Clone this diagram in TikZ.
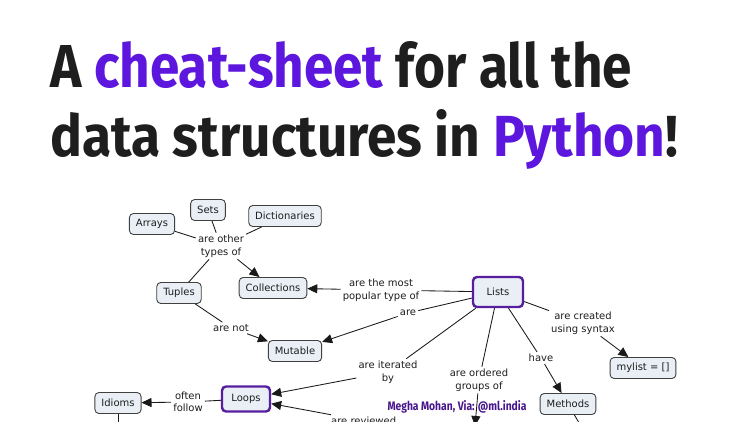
\documentclass[tikz,border=0pt]{standalone}
\usepackage{fontspec}
\setmainfont{DejaVu Sans}
\newfontfamily\titlefamily{Fira Sans}
\usepackage{graphicx}
\usetikzlibrary{arrows.meta, positioning}
\definecolor{inkgray}{RGB}{30, 30, 30}
\definecolor{titlepurple}{RGB}{92, 22, 222}
\definecolor{hubpurple}{RGB}{88, 30, 160}
\definecolor{creditpurple}{RGB}{72, 22, 140}
\definecolor{conceptfill}{RGB}{233, 239, 245}
\tikzset{
  >=Triangle,
  concept/.style={draw=black!75, fill=conceptfill, rounded corners=4pt, line width=0.9pt,
    font=\fontsize{10}{12}\selectfont, text=inkgray, inner xsep=6.5pt, minimum height=21pt},
  hub/.style={concept, draw=hubpurple, line width=2.4pt, minimum width=50pt, minimum height=30pt},
  linkword/.style={font=\fontsize{10}{12.5}\selectfont, align=center, inner sep=2pt, text=inkgray},
  link/.style={line width=0.85pt, black!90},
  linkarrow/.style={link, -{Triangle[length=10pt, width=9pt]}}
}
\begin{document}
\begin{tikzpicture}[x=1pt, y=-1pt]
    \useasboundingbox (0,0) rectangle (750,422);
    \fill[white] (0,0) rectangle (750,422);

    % title
    \node (titleone) [anchor=base west, inner sep=0pt, text=inkgray] at (50,88)
        {\resizebox{582pt}{46pt}{\titlefamily\bfseries A \textcolor{titlepurple}{cheat-sheet} for all the}};
    \node (titletwo) [anchor=base west, inner sep=0pt, text=inkgray] at (50,157)
        {\resizebox{628pt}{47pt}{\titlefamily\bfseries data structures in \textcolor{titlepurple}{Python}!}};

    % concepts
    \node (sets) [concept] at (208,210) {Sets};
    \node (arrays) [concept] at (152,224) {Arrays};
    \node (dicts) [concept] at (285,216) {Dictionaries};
    \node (othertypes) [linkword] at (221,246) {are other\\types of};
    \node (tuples) [concept] at (179,293) {Tuples};
    \node (collections) [concept] at (273,288) {Collections};
    \node (populartype) [linkword] at (381,290) {are the most\\popular type of};
    \node (lists) [hub] at (498,292) {Lists};
    \node (are) [linkword] at (408,313) {are};
    \node (mutable) [concept] at (295,351) {Mutable};
    \node (arenot) [linkword] at (231,328) {are not};
    \node (created) [linkword] at (583,323) {are created\\using syntax};
    \node (mylist) [concept] at (643,368) {mylist = []};
    \node (have) [linkword] at (541,358) {have};
    \node (iterated) [linkword] at (388,372) {are iterated\\by};
    \node (ordered) [linkword] at (479,380) {are ordered\\groups of};
    \node (loops) [hub, minimum width=48pt, minimum height=25pt] at (246,399) {Loops};
    \node (often) [linkword] at (188,402) {often\\follow};
    \node (idioms) [concept] at (118,403) {Idioms};
    \node (methods) [concept] at (568,404) {Methods};
    \node (reviewed) [linkword, anchor=base west] at (329,424.5) {are reviewed};
    \node (credit) [anchor=base, inner sep=0pt, text=creditpurple] at (457,410)
        {\resizebox{139pt}{10pt}{\titlefamily\bfseries Megha Mohan, Via: @ml.india}};

    % loose ends below the page edge
    \coordinate (idiomsend) at (118,440);
    \coordinate (methodsend) at (592,445);
    \coordinate (orderedend) at (475,426);

    % connectors
    \draw[link] (arrays) -- (othertypes);
    \draw[link] (sets) -- (othertypes);
    \draw[link] (dicts) -- (othertypes);
    \draw[link] (tuples) -- (othertypes);
    \draw[linkarrow] (othertypes) -- (collections);
    \draw[link] (lists) -- (populartype);
    \draw[linkarrow] (populartype) -- (collections);
    \draw[link] (lists) -- (are);
    \draw[linkarrow] (are) -- (mutable);
    \draw[link] (tuples) -- (arenot);
    \draw[linkarrow] (arenot) -- (mutable);
    \draw[link] (lists) -- (created);
    \draw[linkarrow] (created) -- (mylist);
    \draw[link] (lists) -- (have);
    \draw[linkarrow] (have) -- (methods);
    \draw[link] (lists) -- (ordered);
    \draw[linkarrow] (ordered) -- (orderedend);
    \draw[link] (lists) -- (iterated);
    \draw[linkarrow] (iterated) -- (loops);
    \draw[link] (loops) -- (often);
    \draw[linkarrow] (often) -- (idioms);
    \draw[linkarrow] (reviewed) -- (loops);
    \draw[link] (idioms) -- (idiomsend);
    \draw[link] (methods) -- (methodsend);
\end{tikzpicture}
\end{document}
